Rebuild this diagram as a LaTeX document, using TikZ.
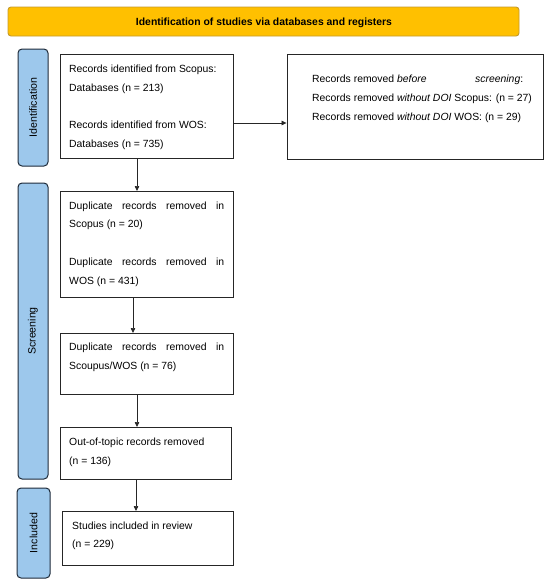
\documentclass[tikz,border=0pt]{standalone}
\usepackage{fontspec}
\setmainfont{Liberation Sans}
\usetikzlibrary{arrows.meta}
\definecolor{hdr}{HTML}{FFC000}
\definecolor{hdrline}{HTML}{C49A2C}
\definecolor{sidefill}{HTML}{9DC8EC}
\definecolor{sideline}{HTML}{1E2B3A}
\tikzset{
  x=1pt, y=-1pt,
  hdrbox/.style={draw=hdrline, fill=hdr, line width=0.9pt, rounded corners=3pt},
  sidebox/.style={draw=sideline, fill=sidefill, line width=1pt, rounded corners=4pt},
  flowbox/.style={draw=black!85, line width=0.9pt},
  txt/.style={anchor=base west, inner sep=0pt, font=\fontsize{10.4}{12}\selectfont},
  sidetxt/.style={rotate=90, inner sep=0pt, font=\fontsize{10.6}{12}\selectfont},
  arr/.style={draw=black!85, line width=0.7pt, -{Triangle[length=5pt,width=4.5pt]}}
}
\begin{document}
\begin{tikzpicture}
\useasboundingbox (0,0) rectangle (550,584);
% header
\draw[hdrbox] (8,7) rectangle (519,36);
\node[inner sep=0pt, font=\bfseries\fontsize{10.4}{12}\selectfont] (hdr) at (264,23) {Identification of studies via databases and registers};
% side bars
\draw[sidebox] (18,49) rectangle (48,166);
\node[sidetxt] (sid) at (33,107.5) {Identification};
\draw[sidebox] (18,183) rectangle (48,479);
\node[sidetxt] (sscr) at (33,331) {Screening};
\draw[sidebox] (17,488) rectangle (50,578);
\node[sidetxt] (sinc) at (33.5,533) {Included};
% boxes
\node[flowbox, minimum width=173pt, minimum height=104pt, inner sep=0pt] (b1) at (146.5,106) {};
\node[flowbox, minimum width=256pt, minimum height=105pt, inner sep=0pt] (br) at (415,106.5) {};
\node[flowbox, minimum width=173pt, minimum height=106pt, inner sep=0pt] (b2) at (146.5,244) {};
\node[flowbox, minimum width=173pt, minimum height=61pt, inner sep=0pt] (b3) at (146.5,363.5) {};
\node[flowbox, minimum width=171pt, minimum height=52pt, inner sep=0pt] (b4) at (145.5,453) {};
\node[flowbox, minimum width=171pt, minimum height=54pt, inner sep=0pt] (b5) at (147.5,538) {};
% texts box 1
\node[txt] (t11) at (69,72.5) {Records identified from Scopus:};
\node[txt] (t12) at (69,91.5) {Databases (n = 213)};
\node[txt] (t13) at (69,128.5) {Records identified from WOS:};
\node[txt] (t14) at (69,147.5) {Databases (n = 735)};
% right box
\node[txt] (tr1) at (312,82.5) {\makebox[211pt][l]{Records removed \textit{before}\hfill\textit{screening}:}};
\node[txt] (tr2) at (312,101.5) {Records removed \textit{without DOI} Scopus: (n = 27)};
\node[txt] (tr3) at (312,120.5) {Records removed \textit{without DOI} WOS: (n = 29)};
% box 2
\node[txt] (t21) at (69,209.5) {\makebox[155pt][s]{Duplicate records removed in}};
\node[txt] (t22) at (69,227.5) {Scopus (n = 20)};
\node[txt] (t23) at (69,265.5) {\makebox[155pt][s]{Duplicate records removed in}};
\node[txt] (t24) at (69,284.5) {WOS (n = 431)};
% box 3
\node[txt] (t31) at (69,350.5) {\makebox[155pt][s]{Duplicate records removed in}};
\node[txt] (t32) at (69,369.5) {Scoupus/WOS (n = 76)};
% box 4
\node[txt] (t41) at (69,445.5) {Out-of-topic records removed};
\node[txt] (t42) at (69,464.5) {(n = 136)};
% box 5
\node[txt] (t51) at (72,529.5) {Studies included in review};
\node[txt] (t52) at (72,547.5) {(n = 229)};
% arrows
\draw[arr] (b1.east |- 0,123) -- (br.west |- 0,123);
\draw[arr] (137,158) -- (137,191);
\draw[arr] (133,297) -- (133,333);
\draw[arr] (137,394) -- (137,427);
\draw[arr] (136,479) -- (136,511);
\end{tikzpicture}
\end{document}
